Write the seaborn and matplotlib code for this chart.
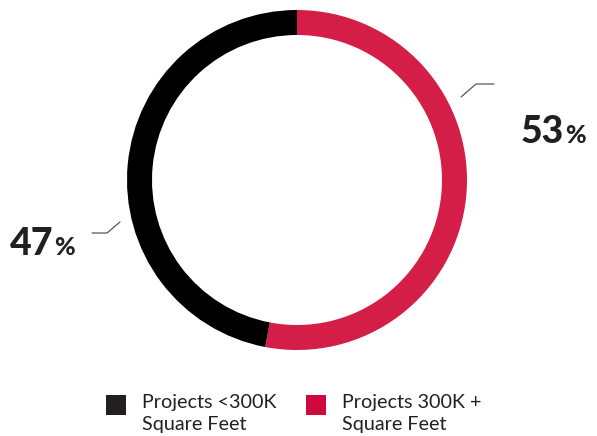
import matplotlib
matplotlib.use("Agg")
import matplotlib.pyplot as plt
from matplotlib.patches import Rectangle
import seaborn as sns

# Share of projects by size
categories = ["Projects 300K +\nSquare Feet", "Projects <300K\nSquare Feet"]
shares = [53, 47]
colors = ["#d41e48", "#000000"]
legend_colors = ["#d0093d", "#231f20"]
pct_labels = ["53", "47"]

sns.set_theme(style="white")
plt.rcParams["font.family"] = ["Lato", "DejaVu Sans"]

W, H = 597, 436
fig = plt.figure(figsize=(W / 100, H / 100), dpi=100)
ax = fig.add_axes([0, 0, 1, 1])


def Y(y):
    # pixel row (top-down) -> axis coordinate (bottom-up)
    return H - y


cx, cy, r, ring = 297, 180, 170, 25
ax.pie(shares, colors=colors, startangle=90, counterclock=False,
       center=(cx, Y(cy)), radius=r,
       wedgeprops=dict(width=ring, linewidth=0))
ax.set_xlim(0, W)
ax.set_ylim(0, H)
ax.set_aspect("equal")
ax.axis("off")

text_color = "#231f20"
line_color = "#444444"

# Leader lines
ax.plot([461, 476, 494], [Y(97), Y(84), Y(84)], color=line_color, lw=0.8)
ax.plot([92, 107, 120], [Y(233), Y(233), Y(222)], color=line_color, lw=0.8)

# Percentage labels
for lab, (x, yb) in zip(pct_labels, [(564, 143), (53, 255)]):
    ax.text(x, Y(yb), lab, ha="right", va="baseline", fontsize=27,
            fontweight="black", color=text_color)
    ax.text(x + 1, Y(yb), "%", ha="left", va="baseline", fontsize=18,
            fontweight="black", color=text_color)

# Legend
legend_items = [(categories[1], legend_colors[1], 106),
                (categories[0], legend_colors[0], 306)]
for label, col, x0 in legend_items:
    ax.add_patch(Rectangle((x0, Y(415)), 20, 20, color=col, lw=0))
    for i, line in enumerate(label.split("\n")):
        ax.text(x0 + 36, Y(408 + 22 * i), line, ha="left", va="baseline",
                fontsize=14.2, color=text_color)

fig.savefig("out.png", dpi=100)
